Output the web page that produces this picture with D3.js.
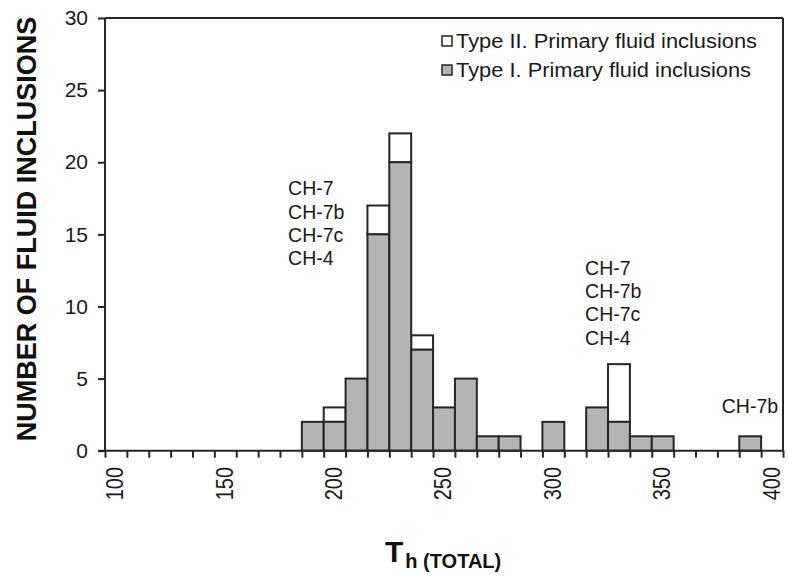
<!DOCTYPE html>
<html><head><meta charset="utf-8">
<script src="https://cdn.jsdelivr.net/npm/d3@7"></script>
<style>
html,body{margin:0;padding:0;background:#fff;}
svg{display:block;font-family:"Liberation Sans",Arial,Helvetica,sans-serif;}
</style></head>
<body>
<svg id="chart" width="789" height="579"></svg>
<script>
// Bin start temperatures (bin width 10)
const binStarts = [190,200,210,220,230,240,250,260,270,280,300,320,330,340,350,390];
const typeI     = [2,  2,  5,  15, 20, 7,  3,  5,  1,  1,  2,  3,  2,  1,  1,  1];
const typeII    = [0,  1,  0,  2,  2,  1,  0,  0,  0,  0,  0,  0,  4,  0,  0,  0];
const binWidth = 10;
const xTickValues = [100,150,200,250,300,350,400];
const yTickValues = [0,5,10,15,20,25,30];
const legendLabels = ["Type II. Primary fluid inclusions","Type I. Primary fluid inclusions"];
const sampleGroups = [
  {x:183.7, y:17.7, lines:["CH-7","CH-7b","CH-7c","CH-4"]},
  {x:319.5, y:12.2, lines:["CH-7","CH-7b","CH-7c","CH-4"]},
  {x:382,   y:2.6,  lines:["CH-7b"]}
];

const svg = d3.select("#chart");
const ink = "#262626";
const x = d3.scaleLinear().domain([100,410]).range([105,783]);
const y = d3.scaleLinear().domain([0,30]).range([450.7,18]);

// frame top & right
svg.append("line").attr("x1",x(100)).attr("x2",x(410)).attr("y1",y(30)).attr("y2",y(30))
  .attr("stroke",ink).attr("stroke-width",2);
svg.append("line").attr("x1",x(410)).attr("x2",x(410)).attr("y1",y(30)).attr("y2",y(0))
  .attr("stroke",ink).attr("stroke-width",2);

// bars
const data = binStarts.map((b,i)=>({b, t1:typeI[i], t2:typeII[i]}));
const g = svg.append("g");
g.selectAll("rect.t2").data(data.filter(d=>d.t2>0)).join("rect")
  .attr("x",d=>x(d.b)).attr("width",d=>x(d.b+binWidth)-x(d.b))
  .attr("y",d=>y(d.t1+d.t2)).attr("height",d=>y(d.t1)-y(d.t1+d.t2))
  .attr("fill","#fff").attr("stroke",ink).attr("stroke-width",2);
g.selectAll("rect.t1").data(data).join("rect")
  .attr("x",d=>x(d.b)).attr("width",d=>x(d.b+binWidth)-x(d.b))
  .attr("y",d=>y(d.t1)).attr("height",d=>y(0)-y(d.t1))
  .attr("fill","#b4b4b4").attr("stroke",ink).attr("stroke-width",2);

// y axis
const yAxis = svg.append("g").attr("transform",`translate(${x(100)},0)`)
  .call(d3.axisLeft(y).tickValues(yTickValues).tickSize(7).tickPadding(10));
yAxis.select(".domain").attr("stroke",ink).attr("stroke-width",2).attr("d",`M0,${y(30)}V${y(0)}`);
yAxis.selectAll(".tick line").attr("stroke",ink).attr("stroke-width",2);
yAxis.selectAll(".tick text").attr("font-size",21).attr("fill","#1a1a1a")
  .attr("font-family","'Liberation Sans',Arial,sans-serif");

// x axis
const xAxis = svg.append("g").attr("transform",`translate(0,${y(0)})`)
  .call(d3.axisBottom(x).tickValues(d3.range(100,411,10)).tickSize(7).tickFormat(""));
xAxis.select(".domain").attr("stroke",ink).attr("stroke-width",2).attr("d",`M${x(100)-7},0H${x(410)}`);
xAxis.selectAll(".tick line").attr("stroke",ink).attr("stroke-width",2);
svg.append("g").selectAll("text").data(xTickValues).join("text")
  .attr("transform",d=>`translate(${x(d)+10},467) rotate(-90) scale(1,1.2)`)
  .attr("text-anchor","end").attr("dy","0.35em")
  .attr("font-size",20).attr("fill","#1a1a1a").text(d=>d);

// legend
legendLabels.forEach((lab,i)=>{
  const yy = 41 + i*29;
  svg.append("rect").attr("x",442).attr("y",yy-5).attr("width",10).attr("height",10)
    .attr("fill",i===0?"#fff":"#b4b4b4").attr("stroke",ink).attr("stroke-width",1.5);
  const t = svg.append("text").attr("x",456).attr("y",yy+7).attr("font-size",20)
    .attr("fill","#1a1a1a").text(lab);
  t.attr("textLength", i===0?301:295).attr("lengthAdjust","spacingAndGlyphs");
});

// sample labels
sampleGroups.forEach(gr=>{
  gr.lines.forEach((ln,j)=>{
    svg.append("text").attr("x",x(gr.x)).attr("y",y(gr.y)+j*23.3)
      .attr("font-size",19.5).attr("fill","#1a1a1a").text(ln);
  });
});

// axis titles
svg.append("text").attr("transform","translate(36,229) rotate(-90)")
  .attr("text-anchor","middle").attr("font-weight","bold").attr("font-size",27)
  .attr("fill","#111").text("NUMBER OF FLUID INCLUSIONS");
const xt = svg.append("text").attr("x",385).attr("y",562).attr("fill","#111").attr("font-weight","bold");
xt.append("tspan").attr("font-size",30).text("T");
xt.append("tspan").attr("font-size",20).attr("dy",6).attr("dx",2).text("h (TOTAL)");
</script>
</body></html>
